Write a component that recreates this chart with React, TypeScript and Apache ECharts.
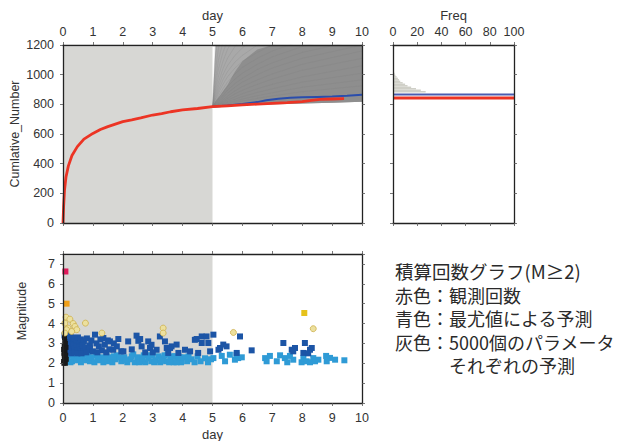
import React, { useEffect, useRef } from 'react';
import * as echarts from 'echarts';

// ---------- data ----------
const DAY_MIN = 0, DAY_MAX = 10;
const CUM_MIN = 0, CUM_MAX = 1200;
const FREQ_MIN = 0, FREQ_MAX = 100;
const MAG_MIN = 0, MAG_MAX = 7.5;

// observed cumulative number (red)
const RED_DAYS = [0, 0.02, 0.05, 0.1, 0.18, 0.3, 0.48, 0.7, 1.0, 1.25, 1.5, 1.75, 2.0, 2.3, 2.6, 3.0, 3.3, 3.6, 4.0, 4.5, 5.0, 5.5, 6.0, 6.5, 7.0, 7.5, 8.0, 8.3, 8.6, 9.0, 9.4];
const RED_VALS = [0, 110, 220, 310, 385, 455, 515, 565, 604, 630, 650, 667, 683, 695, 708, 728, 738, 750, 762, 772, 784, 790, 796, 802, 807, 812, 818, 826, 834, 836, 838];

// maximum-likelihood forecast (blue)
const BLUE_DAYS = [5.0, 5.5, 6.0, 6.5, 6.8, 7.2, 7.6, 8.0, 8.5, 9.0, 9.5, 10.0];
const BLUE_VALS = [784, 792, 803, 815, 828, 838, 845, 848, 850, 852, 858, 865];

// envelope of the 5000 parameter forecasts (grey)
const BAND_DAYS = [5.0, 5.1, 5.25, 5.5, 5.75, 6.0, 6.5, 7.0, 7.5, 8.0, 9.0, 10.0];
const BAND_LOW = [784, 786, 788, 790, 792, 794, 797, 800, 803, 806, 811, 817];
const BAND_HIGH = [784, 820, 860, 930, 1020, 1090, 1170, 1200, 1200, 1200, 1200, 1200];
const OUTER_HIGH = [784, 1200, 1200, 1200, 1200, 1200, 1200, 1200, 1200, 1200, 1200, 1200];

// individual forecast curves in the fan
const FAN_DAYS = [5.0, 5.05, 5.1, 5.2, 5.35, 5.5, 5.75, 6.0, 6.5, 7.0, 8.0, 10.0];
const FAN_LINES = [
  [784, 1000, 1250, 1400, 1500, 1600, 1700, 1800, 1900, 2000, 2100, 2200],
  [784, 950, 1120, 1300, 1450, 1550, 1650, 1750, 1850, 1950, 2050, 2150],
  [784, 900, 1030, 1180, 1320, 1420, 1520, 1600, 1700, 1800, 1900, 2000],
  [784, 870, 970, 1100, 1220, 1320, 1420, 1500, 1600, 1700, 1800, 1900],
  [784, 850, 930, 1040, 1150, 1230, 1320, 1400, 1500, 1600, 1700, 1800],
  [784, 835, 900, 990, 1090, 1170, 1260, 1330, 1420, 1500, 1600, 1700],
  [784, 825, 875, 950, 1040, 1110, 1190, 1250, 1340, 1420, 1520, 1650],
  [784, 815, 855, 920, 1000, 1060, 1130, 1180, 1260, 1330, 1430, 1560],
  [784, 810, 840, 895, 965, 1020, 1085, 1130, 1200, 1260, 1360, 1500],
  [784, 805, 830, 875, 935, 985, 1045, 1090, 1150, 1200, 1280, 1420],
  [784, 800, 820, 855, 905, 950, 1005, 1050, 1110, 1160, 1230, 1350],
  [784, 798, 812, 840, 880, 920, 970, 1010, 1070, 1120, 1190, 1290],
  [784, 796, 806, 828, 860, 895, 940, 975, 1035, 1080, 1150, 1240],
  [784, 794, 802, 818, 845, 875, 915, 950, 1000, 1045, 1110, 1200],
  [784, 792, 798, 810, 830, 855, 890, 920, 965, 1005, 1070, 1160],
  [784, 790, 795, 804, 820, 840, 870, 895, 935, 970, 1030, 1110],
  [784, 789, 793, 800, 812, 828, 850, 872, 905, 935, 985, 1060],
  [784, 788, 791, 797, 806, 818, 835, 852, 880, 905, 950, 1010],
  [784, 787, 790, 794, 800, 810, 822, 835, 858, 878, 915, 965],
  [784, 786, 788, 792, 796, 802, 812, 822, 840, 856, 885, 925],
];

// histogram of final counts (Freq panel)
const HIST_BIN = 10;
const HIST_LOW = [880, 890, 900, 910, 920, 930, 940, 950, 960, 970, 980, 990, 1000, 1010];
const HIST_FREQ = [27, 23, 19, 15, 12, 10, 8, 6, 5, 4, 3, 2, 1.5, 1];
const HIST_RED = 843;
const HIST_BLUE = 866;

// magnitude–time points
const MAG_BLACK = [[0.02, 2.1], [0.03, 2.5], [0.04, 2.9], [0.05, 2.2], [0.06, 3.1], [0.07, 2.6], [0.08, 2.0], [0.09, 2.4], [0.1, 2.8], [0.03, 2.0], [0.05, 3.3], [0.02, 2.7], [0.06, 2.3], [0.08, 3.0], [0.11, 2.2], [0.04, 2.4]];
const MAG_LIGHT = [
  [0.15, 2.2], [0.22, 2.4], [0.3, 2.1], [0.35, 2.35], [0.45, 2.15], [0.5, 2.4], [0.6, 2.05], [0.65, 2.3], [0.75, 2.15], [0.8, 2.45],
  [0.9, 2.1], [0.95, 2.3], [1.05, 2.05], [1.1, 2.4], [1.2, 2.15], [1.3, 2.3], [1.35, 2.05], [1.45, 2.4], [1.5, 2.1], [1.6, 2.3],
  [1.65, 2.05], [1.75, 2.2], [1.8, 2.4], [1.95, 2.1], [2.05, 2.3], [2.15, 2.05], [2.25, 2.2], [2.35, 2.45], [2.4, 2.05], [2.5, 2.3],
  [2.6, 2.1], [2.7, 2.4], [2.75, 2.05], [2.85, 2.25], [2.95, 2.1], [3.0, 2.4], [3.1, 2.15], [3.2, 2.35], [3.25, 2.05], [3.35, 2.25],
  [3.45, 2.1], [3.5, 2.45], [3.6, 2.2], [3.7, 2.05], [3.75, 2.35], [3.85, 2.15], [3.95, 2.05], [4.05, 2.3], [4.15, 2.1], [4.3, 2.2],
  [4.4, 2.05], [4.5, 2.35], [4.6, 2.1], [4.75, 2.25], [4.85, 2.05], [4.95, 2.2],
  [0.25, 2.05], [0.55, 2.25], [0.85, 2.3], [1.15, 2.25], [1.4, 2.2], [1.7, 2.35], [1.9, 2.3], [2.1, 2.15], [2.3, 2.35], [2.55, 2.05],
  [2.65, 2.25], [2.9, 2.4], [3.05, 2.05], [3.3, 2.15], [3.4, 2.4], [3.55, 2.05], [3.65, 2.35], [3.8, 2.05], [3.9, 2.3], [4.2, 2.35],
  [5.03, 2.26], [5.31, 2.37], [5.42, 2.1], [5.58, 2.43], [5.75, 2.18], [5.8, 2.43], [5.86, 2.26], [5.98, 2.3], [6.76, 2.26], [6.81, 2.1],
  [6.92, 2.37], [7.15, 2.1], [7.26, 2.4], [7.42, 2.26], [7.5, 2.05], [7.59, 2.37], [7.7, 2.18], [7.98, 2.05], [8.04, 2.26], [8.15, 2.1],
  [8.26, 2.05], [8.37, 2.26], [8.43, 2.1], [8.54, 2.18], [8.8, 2.37], [8.82, 2.1], [8.93, 2.27], [9.1, 2.18], [9.41, 2.15],
];
const MAG_DARK = [
  [0.05, 3.4], [0.1, 3.3], [0.15, 3.45], [0.2, 3.2], [0.25, 3.35], [0.3, 3.3], [0.35, 3.15], [0.4, 3.25], [0.45, 3.1], [0.5, 3.3],
  [0.55, 3.0], [0.6, 3.2], [0.7, 3.1], [0.8, 3.25], [0.9, 2.9], [0.95, 3.15], [0.1, 2.9], [0.15, 3.05], [0.2, 2.85], [0.25, 2.95],
  [0.3, 2.7], [0.35, 2.9], [0.4, 2.75], [0.45, 2.85], [0.5, 2.65], [0.55, 2.8], [0.6, 2.7], [0.65, 2.9], [0.7, 2.6], [0.75, 2.8],
  [0.85, 2.65], [0.9, 2.75], [1.0, 2.6], [0.12, 2.6], [0.18, 2.55], [0.28, 2.5], [0.38, 2.55], [0.48, 2.5], [0.62, 2.5], [0.78, 2.55],
  [1.07, 3.44], [1.2, 2.85], [1.25, 3.2], [1.35, 3.27], [1.3, 2.65], [1.4, 2.94], [1.5, 3.15], [1.57, 3.1], [1.55, 2.7], [1.68, 2.68],
  [1.7, 3.0], [1.8, 2.85], [1.85, 3.22], [1.95, 2.6], [1.45, 2.55], [1.15, 2.55], [1.12, 3.0],
  [2.02, 2.6], [2.18, 3.1], [2.46, 3.39], [2.52, 3.13], [2.58, 3.22], [2.63, 2.85], [2.85, 3.1], [2.91, 2.77], [2.96, 2.93], [3.13, 2.68],
  [3.24, 3.35], [3.41, 3.1], [3.47, 2.77], [3.52, 2.52], [3.58, 2.77], [3.63, 2.85], [3.8, 2.94], [3.86, 2.52], [4.08, 2.68], [4.41, 3.18],
  [4.47, 3.22], [4.52, 2.52], [4.64, 3.02], [4.64, 3.35], [4.8, 3.35], [4.86, 3.02], [4.92, 2.6], [2.3, 2.7], [2.75, 2.55], [3.0, 2.55], [4.25, 2.6],
  [5.03, 3.44], [5.25, 2.77], [5.36, 2.94], [5.47, 2.85], [5.2, 2.68], [5.81, 2.52], [5.92, 3.35], [6.31, 2.65], [7.37, 3.02], [7.65, 2.68],
  [7.76, 2.77], [8.04, 2.52], [8.09, 3.02], [8.26, 2.68], [8.32, 2.77], [7.7, 2.6], [8.2, 2.5],
];
const MAG_PALE = [[0.1, 4.32], [0.23, 4.22], [0.06, 4.02], [0.34, 4.0], [0.17, 3.77], [0.4, 3.85], [0.46, 3.69], [0.12, 3.69], [0.29, 3.6], [0.06, 3.52], [0.75, 4.02], [1.3, 3.52], [3.35, 3.77], [3.35, 3.52], [5.7, 3.55], [8.37, 3.74]];
const MAG_YELLOW = [[8.07, 4.53]];
const MAG_ORANGE = [[0.12, 5.0]];
const MAG_RED = [[0.08, 6.62]];

const NOTE_LINES = ['積算回数グラフ(M≥2)', '赤色：観測回数', '青色：最尤値による予測', '灰色：5000個のパラメータ'];
const NOTE_LAST = 'それぞれの予測';

// ---------- chart ----------
const FONT = '"Liberation Sans", Arial, Helvetica, sans-serif';
const JP = '"Noto Sans CJK JP", "Noto Sans CJK SC", sans-serif';
const TXT = '#333';

function axis(gridIndex: number, position: string, min: number, max: number, interval: number, labels: boolean, margin = 8, fmt?: any) {
  return {
    type: 'value', gridIndex, position, min, max, interval, z: 10,
    axisLine: { show: true, onZero: false, lineStyle: { color: '#222', width: 1.3 } },
    axisTick: { show: true, inside: false, length: 3, lineStyle: { color: '#555', width: 0.8 } },
    axisLabel: { show: labels, margin, interval: 0, fontFamily: FONT, fontSize: 12.5, color: TXT, formatter: fmt || ((v: number) => String(v)), hideOverlap: false },
    splitLine: { show: false },
  };
}

function band(low: number[], high: number[], color: string, z: number) {
  return {
    type: 'custom', xAxisIndex: 0, yAxisIndex: 0, z, silent: true,
    data: [[BAND_DAYS[0], low[0]]],
    renderItem: (_p: any, api: any) => {
      const pts: number[][] = [];
      for (let i = 0; i < BAND_DAYS.length; i++) pts.push(api.coord([BAND_DAYS[i], high[i]]));
      for (let i = BAND_DAYS.length - 1; i >= 0; i--) pts.push(api.coord([BAND_DAYS[i], low[i]]));
      return { type: 'polygon', shape: { points: pts }, style: { fill: color } };
    },
  };
}

function scat(data: number[][], symbol: string, size: number, color: string, z: number, border?: string) {
  return {
    type: 'scatter', xAxisIndex: 4, yAxisIndex: 4, data, symbol, symbolSize: size, z, silent: true,
    itemStyle: { color, borderColor: border || color, borderWidth: border ? 0.8 : 0, opacity: 1 },
  };
}

function txt(text: string, x: number, y: number, opts: any = {}) {
  return {
    type: 'text', x, y, rotation: opts.rotation || 0, z: 20,
    style: {
      text, fill: opts.fill || TXT, fontSize: opts.size || 12.5, fontFamily: opts.family || FONT,
      textAlign: opts.align || 'center', textVerticalAlign: 'middle', align: opts.align || 'center', verticalAlign: 'middle',
    },
  };
}

export default function App() {
  const ref = useRef<HTMLDivElement>(null);
  useEffect(() => {
    if (!ref.current) return;
    const chart = echarts.init(ref.current, null, { renderer: 'svg' });
    const intOnly = (v: number) => (Number.isInteger(v) ? String(v) : '');
    const gridBase = { show: false, containLabel: false, outerBoundsMode: 'none' };

    const lineY = [271, 294.5, 318, 341.5, 365];
    const JPSIZE = 18;
    const graphics: any[] = [
      txt('day', 212.5, 15, { size: 13 }),
      txt('Freq', 453.5, 15, { size: 13 }),
      txt('Cumlative_Number', 15, 134, { rotation: Math.PI / 2, size: 12.5 }),
      txt('Magnitude', 22, 311, { rotation: Math.PI / 2, size: 12.5 }),
      txt('day', 212.5, 434, { size: 13 }),
    ];
    NOTE_LINES.forEach((t, i) => {
      graphics.push(txt(t, 395, lineY[i], { family: JP, size: i === 0 ? 18.5 : JPSIZE, align: 'left', fill: '#2a2a2a' }));
    });
    graphics.push(txt(NOTE_LAST, 395 + 3 * JPSIZE, lineY[4], { family: JP, size: JPSIZE, align: 'left', fill: '#2a2a2a' }));

    const option: any = {
      animation: false,
      backgroundColor: '#ffffff',
      grid: [
        { ...gridBase, left: 63, top: 45, width: 299, height: 178 },
        { ...gridBase, left: 393, top: 45, width: 121, height: 178 },
        { ...gridBase, left: 63, top: 254, width: 299, height: 149 },
      ],
      xAxis: [
        axis(0, 'top', DAY_MIN, DAY_MAX, 1, true, 7),
        axis(0, 'bottom', DAY_MIN, DAY_MAX, 1, false),
        axis(1, 'top', FREQ_MIN, FREQ_MAX, 20, true, 7),
        axis(1, 'bottom', FREQ_MIN, FREQ_MAX, 20, false),
        axis(2, 'bottom', DAY_MIN, DAY_MAX, 1, true, 8),
        axis(2, 'top', DAY_MIN, DAY_MAX, 1, false),
      ],
      yAxis: [
        axis(0, 'left', CUM_MIN, CUM_MAX, 200, true, 9),
        axis(0, 'right', CUM_MIN, CUM_MAX, 200, false),
        axis(1, 'left', CUM_MIN, CUM_MAX, 200, false),
        axis(1, 'right', CUM_MIN, CUM_MAX, 200, false),
        axis(2, 'left', MAG_MIN, MAG_MAX, 1, true, 8, intOnly),
        axis(2, 'right', MAG_MIN, MAG_MAX, 1, false),
      ],
      graphic: graphics,
      series: [
        {
          type: 'line', xAxisIndex: 0, yAxisIndex: 0, data: [[0, 0]], showSymbol: false, lineStyle: { width: 0 }, z: 1, silent: true,
          markArea: { silent: true, itemStyle: { color: '#d7d7d4', opacity: 1, borderWidth: 0 }, data: [[{ coord: [0, 0] }, { coord: [5, 1188] }]] },
        },
        band(BAND_LOW, OUTER_HIGH, '#a9a9a9', 2),
        band(BAND_LOW, BAND_HIGH, '#8e8e8e', 2),
        ...FAN_LINES.map((vals) => ({
          type: 'line', xAxisIndex: 0, yAxisIndex: 0, data: FAN_DAYS.map((d, i) => [d, vals[i]]),
          showSymbol: false, clip: true, silent: true, z: 3,
          lineStyle: { color: '#7c7c7c', width: 0.6, opacity: 0.3 },
        })),
        {
          type: 'line', xAxisIndex: 0, yAxisIndex: 0, data: BLUE_DAYS.map((d, i) => [d, BLUE_VALS[i]]),
          showSymbol: false, silent: true, z: 4, lineStyle: { color: '#2a4dac', width: 2 },
        },
        {
          type: 'line', xAxisIndex: 0, yAxisIndex: 0, data: RED_DAYS.map((d, i) => [d, RED_VALS[i]]),
          showSymbol: false, silent: true, z: 5, lineStyle: { color: '#ec3424', width: 2.8 },
        },
        {
          type: 'custom', xAxisIndex: 2, yAxisIndex: 2, z: 2, silent: true,
          data: HIST_LOW.map((lo, i) => [HIST_FREQ[i], lo, lo + HIST_BIN]),
          encode: { x: 0, y: [1, 2] },
          renderItem: (_p: any, api: any) => {
            const f = api.value(0), lo = api.value(1), hi = api.value(2);
            const a = api.coord([0, hi]);
            const b = api.coord([f, lo]);
            return { type: 'rect', shape: { x: a[0], y: a[1], width: b[0] - a[0], height: b[1] - a[1] }, style: { fill: '#cfcfc7' } };
          },
        },
        {
          type: 'line', xAxisIndex: 2, yAxisIndex: 2, data: [[FREQ_MIN, HIST_BLUE], [FREQ_MAX, HIST_BLUE]],
          showSymbol: false, silent: true, z: 4, lineStyle: { color: '#4a5cb0', width: 2 },
        },
        {
          type: 'line', xAxisIndex: 2, yAxisIndex: 2, data: [[FREQ_MIN, HIST_RED], [FREQ_MAX, HIST_RED]],
          showSymbol: false, silent: true, z: 5, lineStyle: { color: '#ec3424', width: 3 },
        },
        {
          type: 'line', xAxisIndex: 4, yAxisIndex: 4, data: [[0, 0]], showSymbol: false, lineStyle: { width: 0 }, z: 1, silent: true,
          markArea: { silent: true, itemStyle: { color: '#d7d7d4', opacity: 1, borderWidth: 0 }, data: [[{ coord: [0, 0] }, { coord: [5, 7.4] }]] },
        },
        scat(MAG_LIGHT, 'rect', 6, '#2f9bd6', 3),
        scat(MAG_DARK, 'rect', 6, '#1c55a6', 4),
        scat(MAG_BLACK, 'rect', 5, '#1a1a1a', 5),
        scat(MAG_PALE, 'circle', 6, '#ece09e', 6, '#cdb04c'),
        scat(MAG_YELLOW, 'rect', 6, '#e6c21c', 6),
        scat(MAG_ORANGE, 'rect', 6, '#f0a01a', 6),
        scat(MAG_RED, 'rect', 6, '#e0185a', 6),
      ],
    };
    chart.setOption(option);
    return () => chart.dispose();
  }, []);
  return <div ref={ref} style={{ position: 'fixed', left: 0, top: 0, width: 617, height: 441, background: '#fff' }} />;
}
